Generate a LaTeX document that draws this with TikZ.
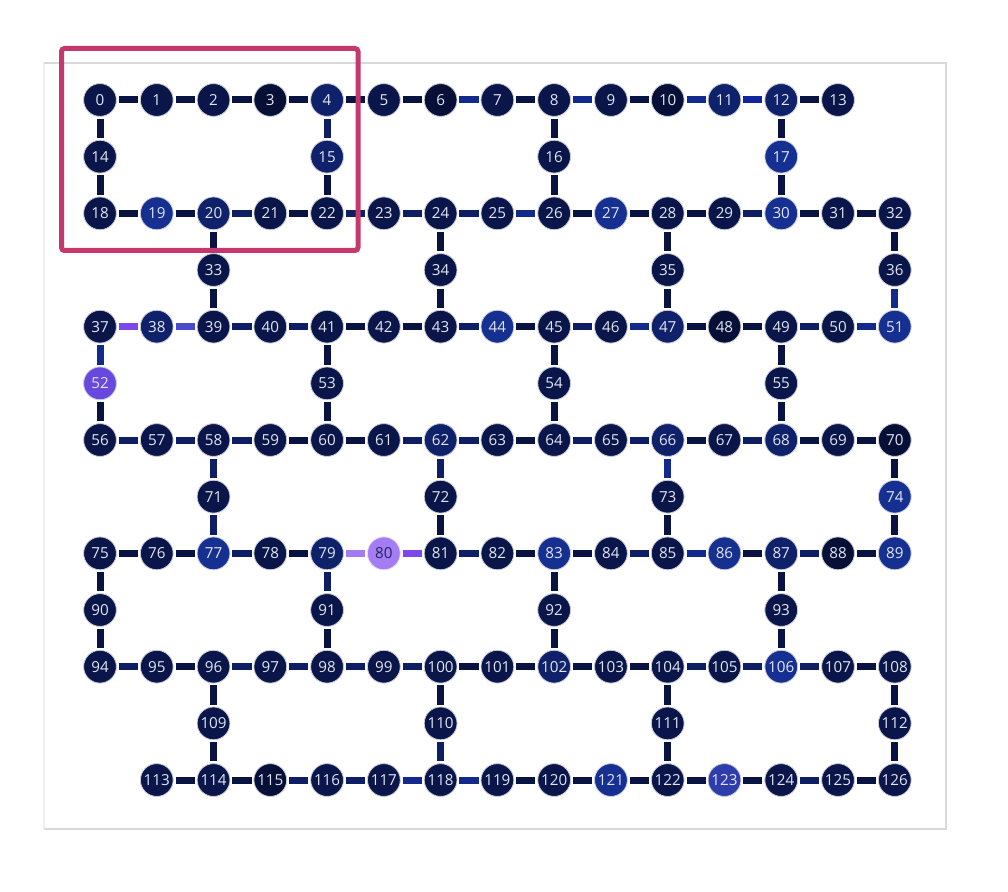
\documentclass[tikz,border=0pt]{standalone}
\usepackage{fontspec}
\setsansfont{Open Sans}
\usepackage{tikz}
\usetikzlibrary{calc}
\definecolor{qdeep}{RGB}{6, 15, 54}
\definecolor{qdark}{RGB}{10, 22, 74}
\definecolor{qmid}{RGB}{14, 33, 106}
\definecolor{qblue}{RGB}{22, 48, 146}
\definecolor{qbright}{RGB}{46, 60, 172}
\definecolor{qviolet}{RGB}{104, 72, 222}
\definecolor{qlilac}{RGB}{164, 124, 244}
\definecolor{qtext}{RGB}{226, 230, 242}
\definecolor{edark}{RGB}{8, 19, 66}
\definecolor{emid}{RGB}{13, 30, 100}
\definecolor{eblue}{RGB}{18, 42, 140}
\definecolor{elilac}{RGB}{162, 124, 244}
\definecolor{epurple}{RGB}{124, 72, 234}
\definecolor{eindigo}{RGB}{74, 74, 204}
\definecolor{hilite}{RGB}{196, 56, 110}

\tikzset{
  qubit/.style={circle, fill=qdark, draw=white!78!qdark, line width=0.4pt,
    minimum size=16.4pt, inner sep=0pt, text=qtext,
    font=\sffamily\fontsize{7.6}{7.6}\selectfont},
  coupler/.style={draw=edark, line width=3.5pt, shorten <=1pt, shorten >=1pt},
  % qubit colours
  c3/.style={fill=qdeep}, c6/.style={fill=qdeep}, c10/.style={fill=qdeep},
  c48/.style={fill=qdeep}, c70/.style={fill=qdeep}, c88/.style={fill=qdeep},
  c115/.style={fill=qdeep},
  c4/.style={fill=qmid}, c11/.style={fill=qmid}, c12/.style={fill=qmid},
  c15/.style={fill=qmid}, c20/.style={fill=qmid}, c38/.style={fill=qmid},
  c47/.style={fill=qmid}, c62/.style={fill=qmid}, c66/.style={fill=qmid},
  c68/.style={fill=qmid}, c79/.style={fill=qmid}, c87/.style={fill=qmid},
  c102/.style={fill=qmid},
  c17/.style={fill=qblue}, c19/.style={fill=qblue}, c27/.style={fill=qblue},
  c30/.style={fill=qblue}, c44/.style={fill=qblue}, c51/.style={fill=qblue},
  c74/.style={fill=qblue}, c77/.style={fill=qblue}, c83/.style={fill=qblue},
  c86/.style={fill=qblue}, c89/.style={fill=qblue}, c106/.style={fill=qblue},
  c121/.style={fill=qblue},
  c123/.style={fill=qbright},
  c52/.style={fill=qviolet},
  c80/.style={fill=qlilac, draw=white!70!qlilac, text=qdeep!80!qlilac},
  % coupler colours
  e4-15/.style={draw=emid}, e20-21/.style={draw=emid}, e22-23/.style={draw=emid},
  e23-24/.style={draw=emid}, e24-25/.style={draw=emid}, e29-30/.style={draw=emid},
  e39-40/.style={draw=emid}, e40-41/.style={draw=emid}, e43-44/.style={draw=emid},
  e45-46/.style={draw=emid}, e49-50/.style={draw=emid}, e56-57/.style={draw=emid},
  e57-58/.style={draw=emid}, e58-59/.style={draw=emid}, e58-71/.style={draw=emid},
  e71-77/.style={draw=emid}, e61-62/.style={draw=emid}, e62-63/.style={draw=emid},
  e62-72/.style={draw=emid}, e64-65/.style={draw=emid}, e65-66/.style={draw=emid},
  e67-68/.style={draw=emid}, e77-78/.style={draw=emid}, e79-91/.style={draw=emid},
  e81-82/.style={draw=emid}, e84-85/.style={draw=emid}, e87-88/.style={draw=emid},
  e94-95/.style={draw=emid}, e96-97/.style={draw=emid}, e97-98/.style={draw=emid},
  e98-99/.style={draw=emid}, e99-100/.style={draw=emid}, e104-105/.style={draw=emid},
  e105-106/.style={draw=emid}, e106-107/.style={draw=emid}, e110-118/.style={draw=emid},
  e115-116/.style={draw=emid}, e116-117/.style={draw=emid}, e124-125/.style={draw=emid},
  e6-7/.style={draw=eblue}, e8-9/.style={draw=eblue}, e10-11/.style={draw=eblue},
  e11-12/.style={draw=eblue!85!blue}, e25-26/.style={draw=eblue}, e36-51/.style={draw=eblue},
  e37-52/.style={draw=eblue}, e46-47/.style={draw=eblue}, e50-51/.style={draw=eblue},
  e66-73/.style={draw=eblue}, e85-86/.style={draw=eblue}, e117-118/.style={draw=eblue},
  e118-119/.style={draw=eblue},
  e37-38/.style={draw=epurple}, e38-39/.style={draw=eindigo},
  e79-80/.style={draw=elilac}, e80-81/.style={draw=epurple},
}

\begin{document}
\begin{tikzpicture}[x=0.5pt, y=-0.5pt]
  \useasboundingbox (0,0) rectangle (1008,892);
  % Panel frame (left side barely shows):
  \draw[black!6, line width=0.6pt] (44,63) -- (44,829);
  \draw[black!15, line width=0.6pt] (44,63) -- (946,63) -- (946,829) -- (44,829);
  % Long rows of qubits
  \foreach \s/\a/\b/\r in {0/0/13/0, 18/18/32/2, 37/37/51/4, 56/56/70/6,
                           75/75/89/8, 94/94/108/10, 112/113/126/12}
    \foreach \i in {\a,...,\b}
      \node[qubit, c\i/.try] (q\i) at ({100+56.77*(\i-\s)},{100+56.67*\r}) {\i};
  % Bridge qubits
  \foreach \i/\c/\r in {14/0/1, 15/4/1, 16/8/1, 17/12/1,
                        33/2/3, 34/6/3, 35/10/3, 36/14/3,
                        52/0/5, 53/4/5, 54/8/5, 55/12/5,
                        71/2/7, 72/6/7, 73/10/7, 74/14/7,
                        90/0/9, 91/4/9, 92/8/9, 93/12/9,
                        109/2/11, 110/6/11, 111/10/11, 112/14/11}
    \node[qubit, c\i/.try] (q\i) at ({100+56.77*\c},{100+56.67*\r}) {\i};
  % Couplers along the rows
  \foreach \a/\b in {0/12, 18/31, 37/50, 56/69, 75/88, 94/107, 113/125}
    \foreach \i in {\a,...,\b} {
      \pgfmathtruncatemacro\nxt{\i+1}
      \draw[coupler, e\i-\nxt/.try] (q\i) -- (q\nxt);
    }
  % Couplers through the bridges
  \foreach \i/\k in {0/14, 14/18, 4/15, 15/22, 8/16, 16/26, 12/17, 17/30,
                     20/33, 33/39, 24/34, 34/43, 28/35, 35/47, 32/36, 36/51,
                     37/52, 52/56, 41/53, 53/60, 45/54, 54/64, 49/55, 55/68,
                     58/71, 71/77, 62/72, 72/81, 66/73, 73/85, 70/74, 74/89,
                     75/90, 90/94, 79/91, 91/98, 83/92, 92/102, 87/93, 93/106,
                     96/109, 109/114, 100/110, 110/118, 104/111, 111/122, 108/112, 112/126}
    \draw[coupler, e\i-\k/.try] (q\i) -- (q\k);
  % Highlight box:
  \draw[hilite, line width=2.5pt, rounded corners=1.5pt] (61.5,48.5) rectangle (358,250.5);
\end{tikzpicture}
\end{document}
